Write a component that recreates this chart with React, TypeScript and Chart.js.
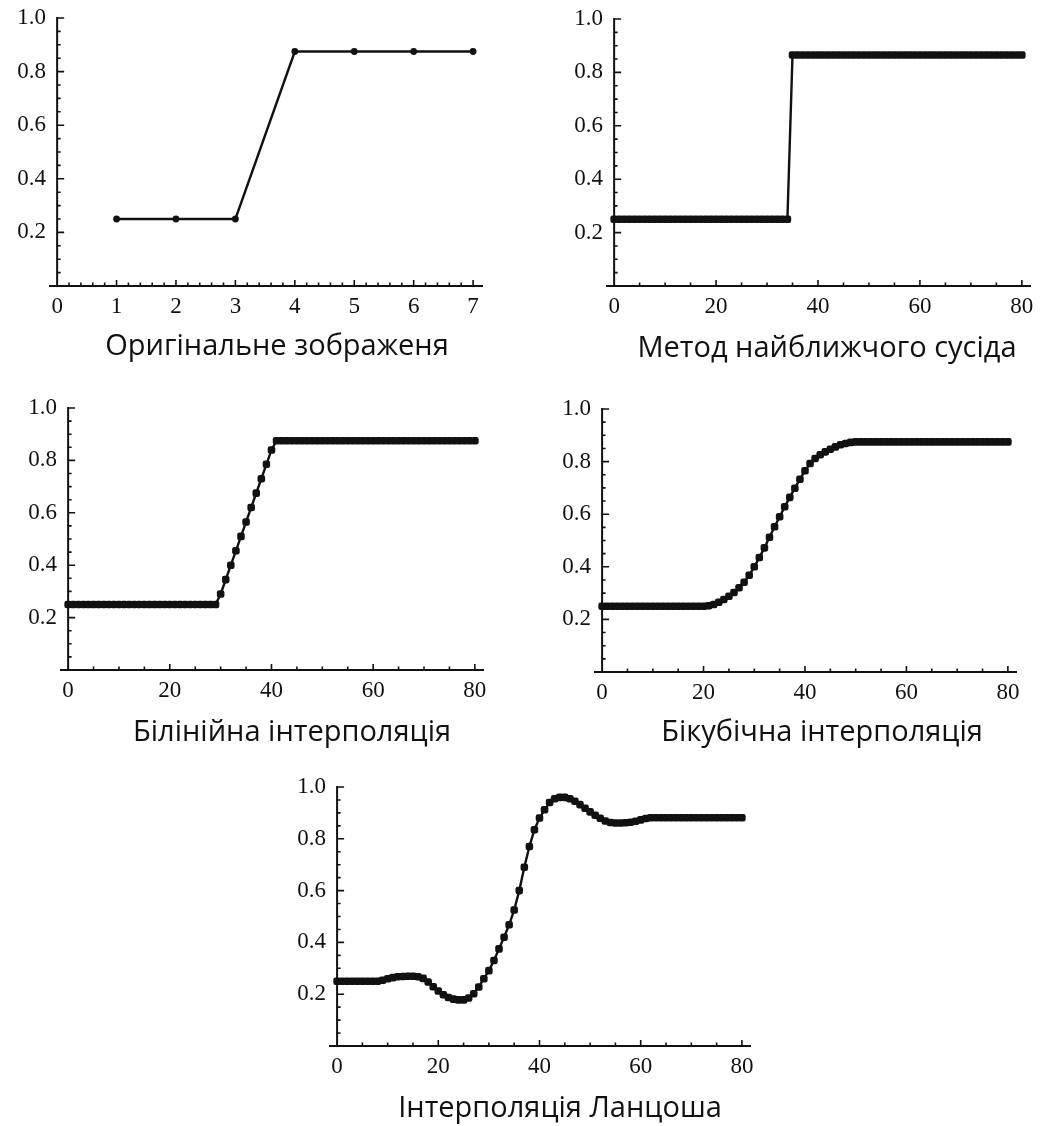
import React, { useEffect, useRef } from "react";
import { Chart, registerables } from "chart.js";

Chart.register(...registerables);

// ---------------- data ----------------
const ORIGINAL_X = [1, 2, 3, 4, 5, 6, 7];
const ORIGINAL_Y = [0.25, 0.25, 0.25, 0.875, 0.875, 0.875, 0.875];

const SAMPLE_X = [
  0, 1, 2, 3, 4, 5, 6, 7, 8, 9,
  10, 11, 12, 13, 14, 15, 16, 17, 18, 19,
  20, 21, 22, 23, 24, 25, 26, 27, 28, 29,
  30, 31, 32, 33, 34, 35, 36, 37, 38, 39,
  40, 41, 42, 43, 44, 45, 46, 47, 48, 49,
  50, 51, 52, 53, 54, 55, 56, 57, 58, 59,
  60, 61, 62, 63, 64, 65, 66, 67, 68, 69,
  70, 71, 72, 73, 74, 75, 76, 77, 78, 79,
  80,
];

const NEAREST_Y = [
  0.25, 0.25, 0.25, 0.25, 0.25, 0.25, 0.25, 0.25, 0.25, 0.25,
  0.25, 0.25, 0.25, 0.25, 0.25, 0.25, 0.25, 0.25, 0.25, 0.25,
  0.25, 0.25, 0.25, 0.25, 0.25, 0.25, 0.25, 0.25, 0.25, 0.25,
  0.25, 0.25, 0.25, 0.25, 0.25, 0.865, 0.865, 0.865, 0.865, 0.865,
  0.865, 0.865, 0.865, 0.865, 0.865, 0.865, 0.865, 0.865, 0.865, 0.865,
  0.865, 0.865, 0.865, 0.865, 0.865, 0.865, 0.865, 0.865, 0.865, 0.865,
  0.865, 0.865, 0.865, 0.865, 0.865, 0.865, 0.865, 0.865, 0.865, 0.865,
  0.865, 0.865, 0.865, 0.865, 0.865, 0.865, 0.865, 0.865, 0.865, 0.865,
  0.865,
];

const BILINEAR_Y = [
  0.25, 0.25, 0.25, 0.25, 0.25, 0.25, 0.25, 0.25, 0.25, 0.25,
  0.25, 0.25, 0.25, 0.25, 0.25, 0.25, 0.25, 0.25, 0.25, 0.25,
  0.25, 0.25, 0.25, 0.25, 0.25, 0.25, 0.25, 0.25, 0.25, 0.25,
  0.29, 0.345, 0.4, 0.455, 0.51, 0.565, 0.62, 0.675, 0.73, 0.785,
  0.84, 0.875, 0.875, 0.875, 0.875, 0.875, 0.875, 0.875, 0.875, 0.875,
  0.875, 0.875, 0.875, 0.875, 0.875, 0.875, 0.875, 0.875, 0.875, 0.875,
  0.875, 0.875, 0.875, 0.875, 0.875, 0.875, 0.875, 0.875, 0.875, 0.875,
  0.875, 0.875, 0.875, 0.875, 0.875, 0.875, 0.875, 0.875, 0.875, 0.875,
  0.875,
];

const BICUBIC_Y = [
  0.25, 0.25, 0.25, 0.25, 0.25, 0.25, 0.25, 0.25, 0.25, 0.25,
  0.25, 0.25, 0.25, 0.25, 0.25, 0.25, 0.25, 0.25, 0.25, 0.25,
  0.25, 0.252, 0.257, 0.265, 0.276, 0.288, 0.302, 0.32, 0.341, 0.368,
  0.4, 0.435, 0.472, 0.512, 0.552, 0.59, 0.628, 0.664, 0.699, 0.733,
  0.765, 0.793, 0.812, 0.826, 0.837, 0.847, 0.856, 0.864, 0.869, 0.873,
  0.875, 0.875, 0.875, 0.875, 0.875, 0.875, 0.875, 0.875, 0.875, 0.875,
  0.875, 0.875, 0.875, 0.875, 0.875, 0.875, 0.875, 0.875, 0.875, 0.875,
  0.875, 0.875, 0.875, 0.875, 0.875, 0.875, 0.875, 0.875, 0.875, 0.875,
  0.875,
];

const LANCZOS_Y = [
  0.25, 0.25, 0.25, 0.25, 0.25, 0.25, 0.25, 0.25, 0.25, 0.254,
  0.26, 0.264, 0.267, 0.268, 0.269, 0.269, 0.267, 0.261, 0.247, 0.229,
  0.212, 0.198, 0.187, 0.181, 0.178, 0.178, 0.185, 0.202, 0.228, 0.26,
  0.291, 0.33, 0.375, 0.42, 0.468, 0.525, 0.6, 0.69, 0.77, 0.835,
  0.88, 0.912, 0.94, 0.955, 0.96, 0.96, 0.955, 0.945, 0.932, 0.918,
  0.904, 0.891, 0.879, 0.869, 0.863, 0.861, 0.861, 0.862, 0.864, 0.868,
  0.873, 0.878, 0.881, 0.881, 0.881, 0.881, 0.881, 0.881, 0.881, 0.881,
  0.881, 0.881, 0.881, 0.881, 0.881, 0.881, 0.881, 0.881, 0.881, 0.881,
  0.881,
];

const TITLES = [
  "Оригінальне зображеня",
  "Метод найближчого сусіда",
  "Білінійна інтерполяція",
  "Бікубічна інтерполяція",
  "Інтерполяція Ланцоша",
];

const X_TICKS_ORIGINAL = [0, 1, 2, 3, 4, 5, 6, 7];
const X_TICKS_RESAMPLED = [0, 20, 40, 60, 80];
const Y_TICKS = [0.2, 0.4, 0.6, 0.8, 1.0];

// ---------------- styling / layout ----------------
const INK = "#111111";
const TICK_FONT = { family: "'Liberation Serif', 'DejaVu Serif', serif", size: 23 };
const TITLE_FONT = "29px 'Open Sans', 'Noto Sans', sans-serif";

const PAD_L = 55;
const PAD_T = 14;
const PAD_R = 22;
const PAD_B = 95;

type Box = { left: number; top: number; right: number; bottom: number };
type PanelSpec = {
  title: string;
  xs: number[];
  ys: number[];
  xMin: number;
  xMax: number;
  xTicks: number[];
  xMinorStep: number;
  box: Box;
  titleAt: [number, number];
  pointStyle: string;
  pointRadius: number;
  lineWidth: number;
};

const PANELS: PanelSpec[] = [
  {
    title: TITLES[0], xs: ORIGINAL_X, ys: ORIGINAL_Y,
    xMin: -0.12, xMax: 7.15, xTicks: X_TICKS_ORIGINAL, xMinorStep: 0.2,
    box: { left: 50, top: 18, right: 482, bottom: 286 },
    titleAt: [277, 347], pointStyle: "circle", pointRadius: 3.4, lineWidth: 2.4,
  },
  {
    title: TITLES[1], xs: SAMPLE_X, ys: NEAREST_Y,
    xMin: -1.4, xMax: 81.6, xTicks: X_TICKS_RESAMPLED, xMinorStep: 5,
    box: { left: 607, top: 19, right: 1030, bottom: 286 },
    titleAt: [827, 349], pointStyle: "rectRounded", pointRadius: 4.4, lineWidth: 2.4,
  },
  {
    title: TITLES[2], xs: SAMPLE_X, ys: BILINEAR_Y,
    xMin: -1.4, xMax: 81.6, xTicks: X_TICKS_RESAMPLED, xMinorStep: 5,
    box: { left: 61, top: 408, right: 483, bottom: 670 },
    titleAt: [292, 733], pointStyle: "rectRounded", pointRadius: 4.4, lineWidth: 2.4,
  },
  {
    title: TITLES[3], xs: SAMPLE_X, ys: BICUBIC_Y,
    xMin: -1.4, xMax: 81.6, xTicks: X_TICKS_RESAMPLED, xMinorStep: 5,
    box: { left: 595, top: 409, right: 1016, bottom: 672 },
    titleAt: [822, 733], pointStyle: "rectRounded", pointRadius: 4.4, lineWidth: 2.4,
  },
  {
    title: TITLES[4], xs: SAMPLE_X, ys: LANCZOS_Y,
    xMin: -1.4, xMax: 81.6, xTicks: X_TICKS_RESAMPLED, xMinorStep: 5,
    box: { left: 330, top: 787, right: 750, bottom: 1046 },
    titleAt: [560, 1109], pointStyle: "rectRounded", pointRadius: 4.4, lineWidth: 2.4,
  },
];

function PanelChart({ p }: { p: PanelSpec }) {
  const ref = useRef<HTMLCanvasElement | null>(null);
  const left = p.box.left - PAD_L;
  const top = p.box.top - PAD_T;
  const width = p.box.right - p.box.left + PAD_L + PAD_R;
  const height = p.box.bottom - p.box.top + PAD_T + PAD_B;

  useEffect(() => {
    if (!ref.current) return;
    const axesPlugin = {
      id: "mathAxes",
      afterDraw(chart: any) {
        const ctx = chart.ctx as CanvasRenderingContext2D;
        const sx = chart.scales.x;
        const sy = chart.scales.y;
        const x0 = sx.getPixelForValue(0);
        const yb = sy.getPixelForValue(0);
        const yt = sy.getPixelForValue(1);
        ctx.save();
        ctx.strokeStyle = INK;
        ctx.lineCap = "butt";
        // vertical axis line
        ctx.lineWidth = 2;
        ctx.beginPath();
        ctx.moveTo(x0, yb + 1);
        ctx.lineTo(x0, yt - 1);
        ctx.stroke();
        // y ticks (major every 0.2, minor every 0.05)
        ctx.lineWidth = 1.6;
        ctx.beginPath();
        for (let k = 1; k <= 20; k++) {
          const v = k * 0.05;
          const yy = sy.getPixelForValue(v);
          const major = k % 4 === 0;
          ctx.moveTo(x0, yy);
          ctx.lineTo(x0 + (major ? 7 : 3.5), yy);
        }
        // x ticks
        const last = p.xTicks[p.xTicks.length - 1];
        for (let k = 1; k * p.xMinorStep <= last + 1e-9; k++) {
          const v = k * p.xMinorStep;
          const major = p.xTicks.some((t) => Math.abs(t - v) < 1e-6);
          const xx = sx.getPixelForValue(v);
          ctx.moveTo(xx, yb);
          ctx.lineTo(xx, yb - (major ? 6 : 3.5));
        }
        ctx.stroke();
        // title
        ctx.fillStyle = INK;
        ctx.font = TITLE_FONT;
        ctx.textAlign = "center";
        ctx.textBaseline = "middle";
        ctx.fillText(p.title, p.titleAt[0] - left, p.titleAt[1] - top);
        ctx.restore();
      },
    };

    const chart = new Chart(ref.current, {
      type: "scatter",
      data: {
        datasets: [
          {
            data: p.xs.map((x, i) => ({ x, y: p.ys[i] })),
            showLine: true,
            borderColor: INK,
            borderWidth: p.lineWidth,
            pointStyle: p.pointStyle,
            pointRadius: p.pointRadius,
            pointHoverRadius: p.pointRadius,
            pointBackgroundColor: INK,
            pointBorderWidth: 0,
            clip: false as any,
          } as any,
        ],
      },
      options: {
        responsive: false,
        animation: false,
        devicePixelRatio: 1,
        events: [],
        layout: { padding: { left: 0, top: PAD_T, right: PAD_R, bottom: 0 } },
        plugins: {
          legend: { display: false },
          tooltip: { enabled: false },
          title: { display: false },
        },
        scales: {
          x: {
            type: "linear",
            min: p.xMin,
            max: p.xMax,
            afterBuildTicks: (s: any) => {
              s.ticks = p.xTicks.map((v) => ({ value: v }));
            },
            afterFit: (s: any) => {
              s.height = PAD_B;
              s.paddingLeft = 0;
              s.paddingRight = 0;
            },
            grid: { display: false, drawTicks: false },
            border: { display: true, color: INK, width: 2 },
            ticks: {
              color: INK,
              font: TICK_FONT,
              padding: 7,
              maxRotation: 0,
              autoSkip: false,
              callback: (v: any) => String(v),
            },
          },
          y: {
            type: "linear",
            min: 0,
            max: 1,
            afterBuildTicks: (s: any) => {
              s.ticks = Y_TICKS.map((v) => ({ value: v }));
            },
            afterFit: (s: any) => {
              s.width = PAD_L;
              s.paddingTop = 0;
              s.paddingBottom = 0;
            },
            grid: { display: false, drawTicks: false },
            border: { display: false },
            ticks: {
              color: INK,
              font: TICK_FONT,
              padding: 4,
              autoSkip: false,
              callback: (v: any) => Number(v).toFixed(1),
            },
          },
        },
      },
      plugins: [axesPlugin],
    } as any);
    return () => chart.destroy();
  }, []);

  return (
    <canvas
      ref={ref}
      width={width}
      height={height}
      style={{ position: "absolute", left, top, width, height }}
    />
  );
}

export default function App() {
  return (
    <div
      style={{
        position: "absolute",
        left: 0,
        top: 0,
        width: 1043,
        height: 1126,
        background: "#ffffff",
        overflow: "hidden",
      }}
    >
      {PANELS.map((p, i) => (
        <PanelChart key={i} p={p} />
      ))}
    </div>
  );
}
